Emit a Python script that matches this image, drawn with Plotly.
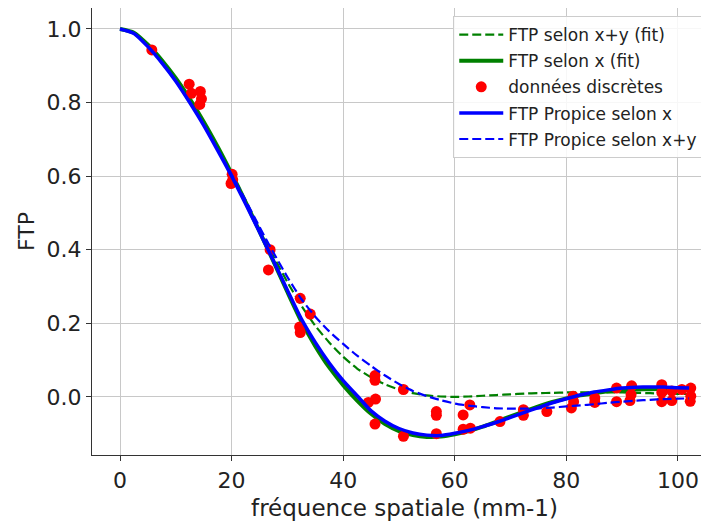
import plotly.graph_objects as go

freq = [0, 2.5, 5, 7.5, 10, 12.5, 15, 17.5, 20, 22.5, 25, 27.5, 30, 32.5, 35, 37.5,
        40, 42.5, 45, 47.5, 50, 52.5, 55, 57.5, 60, 62.5, 65, 67.5, 70, 72.5, 75, 77.5,
        80, 82.5, 85, 87.5, 90, 92.5, 95, 97.5, 100, 102]

ftp_xy_fit = [1.0, 0.99, 0.957, 0.915, 0.866, 0.81, 0.748, 0.68, 0.607, 0.532, 0.455, 0.382,
              0.312, 0.248, 0.193, 0.148, 0.109, 0.077, 0.053, 0.034, 0.02, 0.01, 0.004, 0.001,
              0.0, 0.001, 0.003, 0.005, 0.007, 0.009, 0.01, 0.011, 0.012, 0.012, 0.012, 0.012,
              0.012, 0.011, 0.01, 0.009, 0.008, 0.008]

ftp_x_fit = [1.0, 0.99, 0.957, 0.915, 0.866, 0.81, 0.748, 0.68, 0.607, 0.53, 0.45, 0.368,
             0.285, 0.205, 0.138, 0.08, 0.032, -0.01, -0.046, -0.074, -0.093, -0.104, -0.109,
             -0.108, -0.102, -0.093, -0.081, -0.067, -0.053, -0.039, -0.026, -0.014, -0.004,
             0.004, 0.01, 0.015, 0.018, 0.02, 0.021, 0.021, 0.02, 0.019]

ftp_propice_x = [1.0, 0.988, 0.952, 0.908, 0.858, 0.80, 0.738, 0.67, 0.60, 0.525, 0.448, 0.37,
                 0.29, 0.212, 0.148, 0.092, 0.044, 0.003, -0.038, -0.066, -0.086, -0.098, -0.104,
                 -0.105, -0.099, -0.091, -0.081, -0.069, -0.056, -0.042, -0.029, -0.016, -0.005,
                 0.005, 0.013, 0.019, 0.024, 0.026, 0.027, 0.027, 0.025, 0.024]

ftp_propice_xy = [1.0, 0.988, 0.952, 0.908, 0.858, 0.80, 0.74, 0.673, 0.605, 0.535, 0.462, 0.392,
                  0.326, 0.266, 0.218, 0.178, 0.144, 0.112, 0.084, 0.058, 0.035, 0.016, 0.002,
                  -0.009, -0.018, -0.024, -0.028, -0.031, -0.032, -0.032, -0.031, -0.029, -0.026,
                  -0.023, -0.02, -0.016, -0.013, -0.01, -0.008, -0.006, -0.005, -0.004]

data_f = [5.7, 12.4, 12.8, 14.4, 14.6, 14.3, 20.1, 19.9, 20.2, 26.9, 26.6,
          32.3, 34.1, 32.2, 32.3, 45.7, 45.7, 45.8, 44.5, 45.7, 50.8, 50.8,
          56.7, 56.7, 56.7, 62.7, 61.5, 61.5, 62.8, 68.1, 72.3, 72.3, 76.5,
          81.2, 80.9, 81.3, 85.1, 85.1, 89.0, 89.0, 91.7, 91.6, 91.4,
          97.1, 97.1, 97.1, 98.9, 98.9, 100.7, 102.3, 102.3, 102.2]
data_v = [0.943, 0.85, 0.825, 0.83, 0.81, 0.795, 0.605, 0.58, 0.59, 0.40, 0.345,
          0.268, 0.225, 0.19, 0.175, 0.058, 0.045, -0.006, -0.015, -0.074, 0.02, -0.107,
          -0.04, -0.05, -0.10, -0.022, -0.049, -0.088, -0.085, -0.067, -0.035, -0.05, -0.04,
          0.002, -0.03, -0.013, -0.003, -0.015, 0.024, -0.013, 0.03, 0.006, -0.01,
          0.033, 0.012, -0.013, 0.016, -0.01, 0.02, 0.024, 0.002, -0.012]

x_ticks = [0, 20, 40, 60, 80, 100]
y_ticks = [0.0, 0.2, 0.4, 0.6, 0.8, 1.0]

FONT = "DejaVu Sans"

fig = go.Figure()
fig.add_trace(go.Scatter(x=freq, y=ftp_xy_fit, mode="lines", name="FTP selon x+y (fit)", legendgroup="g1",
                         line=dict(color="green", width=2.2, dash="9px,4px", shape="spline", smoothing=0.6)))
fig.add_trace(go.Scatter(x=freq, y=ftp_x_fit, mode="lines", name="FTP selon x (fit)", legendgroup="g2",
                         line=dict(color="green", width=4, shape="spline", smoothing=0.6)))
fig.add_trace(go.Scatter(x=data_f, y=data_v, mode="markers", name="données discrètes", legendgroup="g3",
                         marker=dict(color="red", size=11, line=dict(width=0))))
fig.add_trace(go.Scatter(x=freq, y=ftp_propice_x, mode="lines", name="FTP Propice selon x", legendgroup="g4",
                         line=dict(color="blue", width=3.5, shape="spline", smoothing=0.6)))
fig.add_trace(go.Scatter(x=freq, y=ftp_propice_xy, mode="lines", name="FTP Propice selon x+y", legendgroup="g5",
                         line=dict(color="blue", width=2.2, dash="9px,4px", shape="spline", smoothing=0.6)))

fig.update_layout(
    width=709, height=525,
    margin=dict(l=84, r=0, t=0, b=78),
    paper_bgcolor="white", plot_bgcolor="white",
    font=dict(family=FONT, color="#222222", size=22),
    showlegend=True,
    legend=dict(x=0.578, y=0.982, xanchor="left", yanchor="top",
                bgcolor="rgba(255,255,255,0.85)", bordercolor="#cccccc", borderwidth=1,
                font=dict(family=FONT, size=17, color="#222222"),
                tracegroupgap=1, itemwidth=44),
)
fig.update_xaxes(range=[-5.02, 107.0], tickvals=x_ticks, ticktext=[str(v) for v in x_ticks],
                 automargin=False,
                 showgrid=True, gridcolor="#c8c8c8", gridwidth=1, zeroline=False,
                 showline=True, linecolor="#333333", linewidth=1.2, mirror=True,
                 ticks="outside", ticklen=5, tickcolor="#333333",
                 title=dict(text="fréquence spatiale (mm-1)", font=dict(size=23), standoff=8))
fig.update_yaxes(range=[-0.158, 1.057], tickvals=y_ticks, ticktext=[f"{v:.1f}" for v in y_ticks],
                 automargin=False,
                 showgrid=True, gridcolor="#c8c8c8", gridwidth=1, zeroline=False,
                 showline=True, linecolor="#333333", linewidth=1.2, mirror=True,
                 ticks="outside", ticklen=5, tickcolor="#333333",
                 title=dict(text="FTP", font=dict(size=22), standoff=5))

fig.write_html("out.html")
